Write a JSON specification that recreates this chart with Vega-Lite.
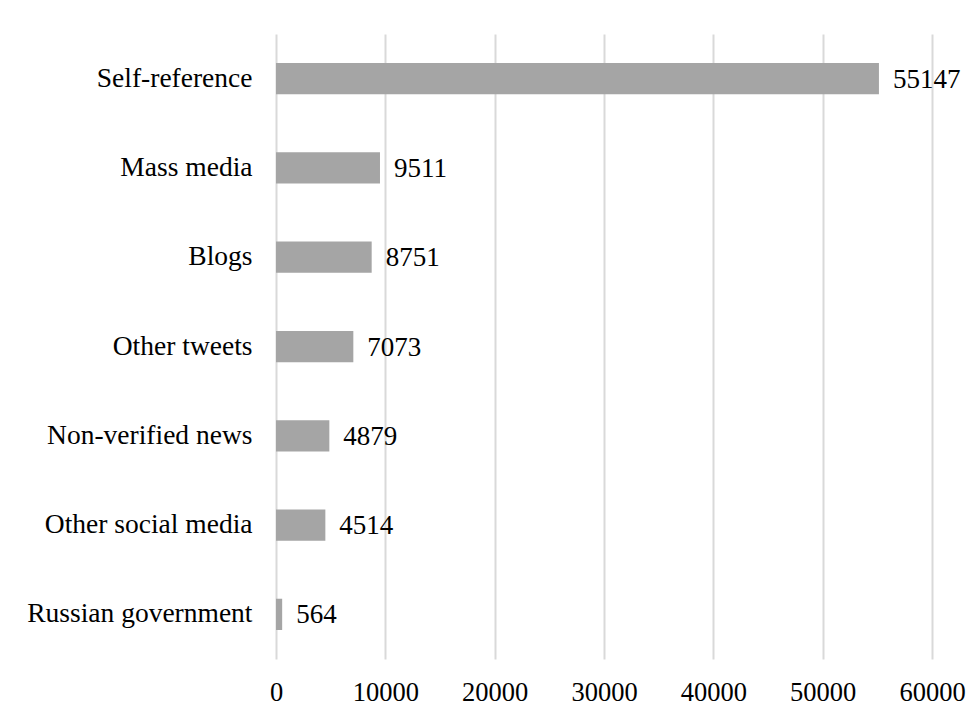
{
  "$schema": "https://vega.github.io/schema/vega-lite/v6.json",
  "autosize": {"type": "none"},
  "width": 656,
  "height": 625,
  "padding": {"left": 276, "top": 34, "right": 47, "bottom": 58},
  "background": "white",
  "config": {
    "view": {"stroke": null},
    "font": "Liberation Serif",
    "axis": {"labelFont": "Liberation Serif", "labelFontSize": 26.5, "labelColor": "#000000", "labelLimit": 400, "labelFlush": false, "labelOverlap": false}
  },
  "data": {
    "values": [
      {"source": "Self-reference", "count": 55147},
      {"source": "Mass media", "count": 9511},
      {"source": "Blogs", "count": 8751},
      {"source": "Other tweets", "count": 7073},
      {"source": "Non-verified news", "count": 4879},
      {"source": "Other social media", "count": 4514},
      {"source": "Russian government", "count": 564}
    ]
  },
  "encoding": {
    "y": {
      "field": "source", "type": "nominal", "sort": null,
      "scale": {"paddingInner": 0.65, "paddingOuter": 0.325},
      "axis": {"title": null, "domain": false, "ticks": false, "labelPadding": 24, "grid": false, "labelFontSize": 27.5}
    },
    "x": {
      "field": "count", "type": "quantitative",
      "scale": {"domain": [0, 60000], "nice": false},
      "axis": {
        "title": null, "domain": false, "ticks": false, "values": [0,10000,20000,30000,40000,50000,60000],
        "format": "d", "grid": true, "gridColor": "#d9d9d9", "gridWidth": 2, "labelPadding": 20
      }
    }
  },
  "layer": [
    {"mark": {"type": "bar", "color": "#a5a5a5"}},
    {"mark": {"type": "text", "align": "left", "baseline": "middle", "dx": 14, "dy": 1, "fontSize": 27, "font": "Liberation Serif", "color": "#000000"},
     "encoding": {"text": {"field": "count", "type": "quantitative", "format": "d"}}}
  ]
}
